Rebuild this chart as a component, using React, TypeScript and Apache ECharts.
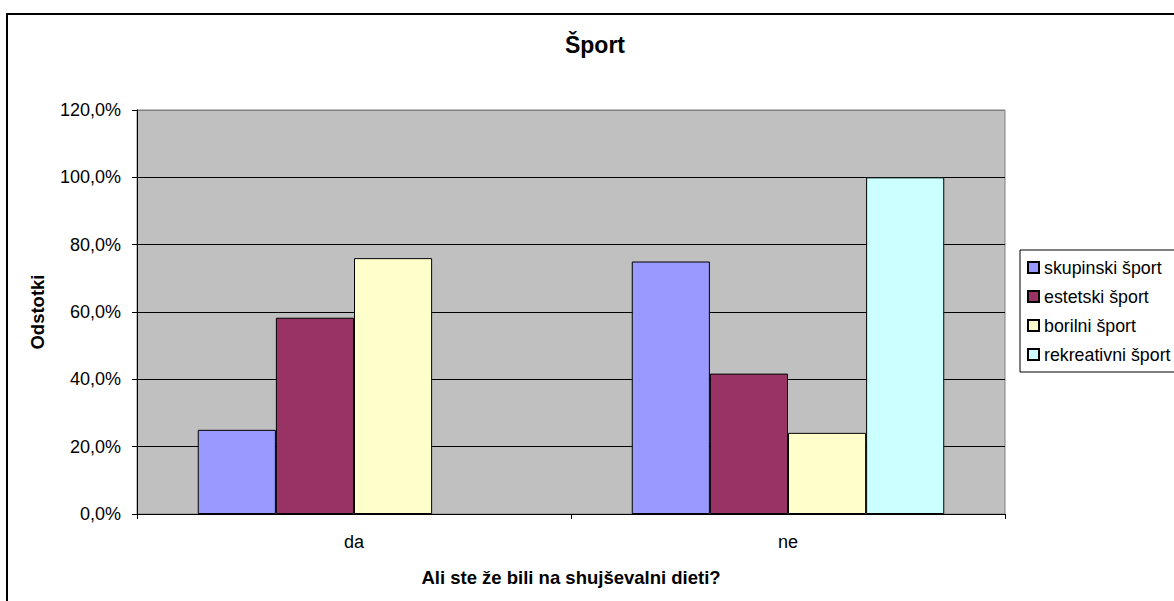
import React, { useEffect, useRef } from "react";
import * as echarts from "echarts";

const categories = ["da", "ne"];
const seriesNames = ["skupinski šport", "estetski šport", "borilni šport", "rekreativni šport"];
const skupinski = [25.0, 75.0];
const estetski = [58.3, 41.7];
const borilni = [76.0, 24.1];
const rekreativni = [null, 100.0];
const seriesColors = ["#9999FF", "#993366", "#FFFFCC", "#CCFFFF"];
const titleText = "Šport";
const xName = "Ali ste že bili na shujševalni dieti?";
const yName = "Odstotki";

const FONT = "'Liberation Sans', Arial, sans-serif";

export default function App() {
  const ref = useRef<HTMLDivElement>(null);
  useEffect(() => {
    if (!ref.current) return;
    const chart = echarts.init(ref.current, undefined, { renderer: "svg" });
    const values = [skupinski, estetski, borilni, rekreativni];
    chart.setOption({
      animation: false,
      backgroundColor: "#ffffff",
      textStyle: { fontFamily: FONT },
      title: {
        text: titleText,
        left: 595,
        top: 33,
        textAlign: "center",
        padding: 0,
        textStyle: { fontFamily: FONT, fontSize: 23, fontWeight: "bold", color: "#000" },
      },
      graphic: [
        {
          type: "rect",
          z: -1,
          shape: { x: 7, y: 14, width: 1220, height: 640 },
          style: { fill: "none", stroke: "#000", lineWidth: 2 },
        },
      ],
      legend: {
        orient: "vertical",
        left: 1020,
        top: 250,
        padding: [8, 40, 8, 7],
        itemWidth: 11,
        itemHeight: 11,
        itemGap: 10,
        borderColor: "#000",
        borderWidth: 1,
        backgroundColor: "#fff",
        icon: "rect",
        data: seriesNames,
        textStyle: { fontFamily: FONT, fontSize: 17.8, color: "#000", lineHeight: 19 },
      },
      grid: {
        left: 137,
        top: 110,
        right: 169,
        bottom: 87,
        show: true,
        backgroundColor: "#C0C0C0",
        borderColor: "#808080",
        borderWidth: 1,
      },
      xAxis: {
        type: "category",
        data: categories,
        name: xName,
        nameLocation: "middle",
        nameGap: 54,
        nameTextStyle: { fontFamily: FONT, fontSize: 18.5, fontWeight: "bold", color: "#000" },
        axisLine: { lineStyle: { color: "#000", width: 1 } },
        axisTick: { show: true, length: 5, alignWithLabel: false, lineStyle: { color: "#000" } },
        axisLabel: { margin: 19, fontFamily: FONT, fontSize: 18, color: "#000" },
        splitLine: { show: false },
      },
      yAxis: {
        type: "value",
        min: 0,
        max: 120,
        interval: 20,
        name: yName,
        nameLocation: "middle",
        nameGap: 90,
        nameTextStyle: { fontFamily: FONT, fontSize: 18.5, fontWeight: "bold", color: "#000" },
        axisLine: { show: true, lineStyle: { color: "#000", width: 1 } },
        axisTick: { show: true, length: 5, lineStyle: { color: "#000" } },
        axisLabel: {
          margin: 16,
          fontFamily: FONT,
          fontSize: 18,
          color: "#000",
          formatter: (v: number) => v.toFixed(1).replace(".", ",") + "%",
        },
        splitLine: {
          show: true,
          lineStyle: { color: ["#000", "#000", "#000", "#000", "#000", "#000", "#808080"], width: 1 },
        },
      },
      series: seriesNames.map((name, i) => ({
        name,
        type: "bar",
        data: values[i],
        barGap: "0%",
        barCategoryGap: "28%",
        itemStyle: { color: seriesColors[i], borderColor: "#000", borderWidth: 1 },
      })),
    });
    return () => chart.dispose();
  }, []);
  return (
    <div
      ref={ref}
      style={{ position: "fixed", left: 0, top: 0, width: 1174, height: 601, background: "#fff" }}
    />
  );
}
